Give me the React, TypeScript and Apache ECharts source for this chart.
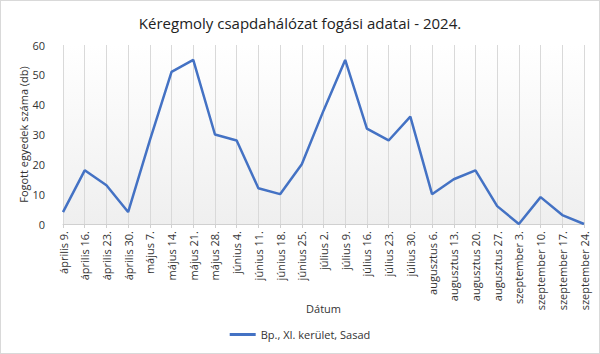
import React, { useEffect, useRef } from "react";
import * as echarts from "echarts";

const categories = [
  "április 9.", "április 16.", "április 23.", "április 30.",
  "május 7.", "május 14.", "május 21.", "május 28.",
  "június 4.", "június 11.", "június 18.", "június 25.",
  "július 2.", "július 9.", "július 16.", "július 23.", "július 30.",
  "augusztus 6.", "augusztus 13.", "augusztus 20.", "augusztus 27.",
  "szeptember 3.", "szeptember 10.", "szeptember 17.", "szeptember 24.",
];
const values = [4, 18, 13, 4, 28, 51, 55, 30, 28, 12, 10, 20, 38, 55, 32, 28, 36, 10, 15, 18, 6, 0, 9, 3, 0];
const seriesName = "Bp., XI. kerület, Sasad";
const titleText = "Kéregmoly csapdahálózat fogási adatai - 2024.";
const yName = "Fogott egyedek száma (db)";
const xName = "Dátum";

const FONT = "'Open Sans', 'Noto Sans', sans-serif";

export default function App() {
  const ref = useRef<HTMLDivElement>(null);
  useEffect(() => {
    const chart = echarts.init(ref.current!, null, { renderer: "svg" });
    chart.setOption({
      animation: false,
      backgroundColor: "#ffffff",
      textStyle: { fontFamily: FONT },
      title: {
        text: titleText,
        left: "center",
        top: 9,
        textStyle: { fontFamily: FONT, fontSize: 15, fontWeight: "normal", color: "#222" },
      },
      legend: {
        bottom: 8,
        left: "center",
        icon: "rect",
        itemWidth: 26,
        itemHeight: 3,
        itemGap: 4,
        textStyle: { fontFamily: FONT, fontSize: 11, color: "#333" },
        data: [seriesName],
      },
      grid: {
        left: 62,
        right: 15,
        top: 44,
        bottom: 129,
        show: true,
        borderWidth: 0,
        backgroundColor: {
          type: "linear", x: 0, y: 0, x2: 0, y2: 1,
          colorStops: [
            { offset: 0, color: "#ffffff" },
            { offset: 1, color: "#efefef" },
          ],
        },
      },
      xAxis: {
        type: "category",
        data: categories,
        boundaryGap: false,
        name: xName,
        nameLocation: "middle",
        nameGap: 84,
        nameMoveOverlap: false,
        nameTextStyle: { fontFamily: FONT, fontSize: 11, color: "#333", verticalAlign: "middle" },
        axisLine: { lineStyle: { color: "#d0d0d0" } },
        axisTick: { show: true, length: 4, lineStyle: { color: "#d0d0d0" } },
        splitLine: { show: true, lineStyle: { color: "#d9d9d9", width: 1 } },
        axisLabel: {
          rotate: 90,
          interval: 0,
          fontFamily: FONT,
          fontSize: 11,
          color: "#333",
          margin: 7,
        },
      },
      yAxis: {
        type: "value",
        min: 0,
        max: 60,
        interval: 10,
        name: yName,
        nameLocation: "middle",
        nameGap: 34,
        nameMoveOverlap: false,
        nameTextStyle: { fontFamily: FONT, fontSize: 11, color: "#333" },
        axisLine: { show: false },
        axisTick: { show: false },
        splitLine: { show: false },
        axisLabel: { fontFamily: FONT, fontSize: 11, color: "#333", margin: 18 },
      },
      series: [
        {
          name: seriesName,
          type: "line",
          data: values,
          showSymbol: false,
          symbol: "none",
          lineStyle: { color: "#4472C4", width: 2.5 },
          itemStyle: { color: "#4472C4" },
        },
      ],
    });
    return () => chart.dispose();
  }, []);
  return (
    <div
      ref={ref}
      style={{ width: 600, height: 354, position: "absolute", left: 0, top: 0, boxSizing: "border-box", border: "1px solid #d9d9d9" }}
    />
  );
}
